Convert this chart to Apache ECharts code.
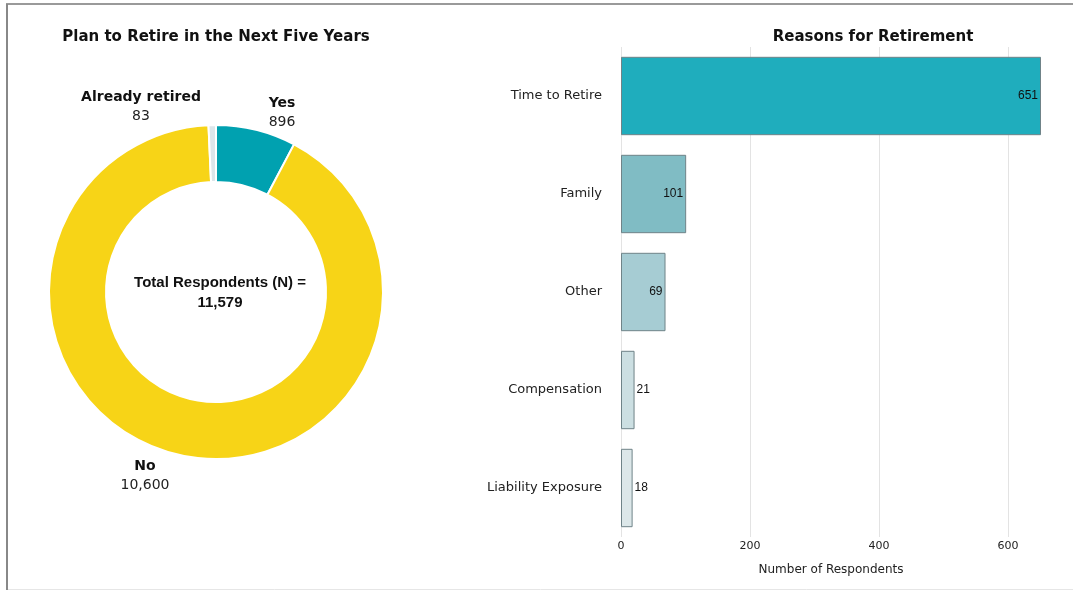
<!DOCTYPE html>
<html><head><meta charset="utf-8">
<script src="https://cdn.jsdelivr.net/npm/echarts@6/dist/echarts.min.js"></script>
<style>html,body{margin:0;padding:0;background:#fff}#c{width:1073px;height:590px}</style>
</head><body><div id="c"></div>
<script>
const pieNames = ['Yes', 'No', 'Already retired'];
const pieValues = [896, 10600, 83];
const reasonCategories = ['Time to Retire', 'Family', 'Other', 'Compensation', 'Liability Exposure'];
const reasonValues = [651, 101, 69, 21, 18];
const xTicks = [0, 200, 400, 600];

const pieColors = ['#00A1B0', '#F7D417', '#DCE6EA'];
const barColors = ['#1FADBD', '#80BCC4', '#A6CCD3', '#CCDFE2', '#DCE7E9'];
const labelSpots = {'Yes': [282, 113], 'Already retired': [141, 107], 'No': [145, 476]};
const total = pieValues.reduce((a, b) => a + b, 0);
const fmt = v => v.toLocaleString('en-US');

const chart = echarts.init(document.getElementById('c'));
chart.setOption({
  animation: false,
  title: [
    {text: 'Plan to Retire in the Next Five Years', left: 211, top: 25, textAlign: 'center',
     textStyle: {fontFamily: 'DejaVu Sans', fontSize: 15, fontWeight: 'bold', color: '#111'}},
    {text: 'Reasons for Retirement', left: 868, top: 25, textAlign: 'center',
     textStyle: {fontFamily: 'DejaVu Sans', fontSize: 15, fontWeight: 'bold', color: '#111'}},
    {text: 'Total Respondents (N) =\n' + fmt(total), left: 215, top: 268, textAlign: 'center',
     textStyle: {fontFamily: 'Arial, "Liberation Sans"', fontSize: 15, fontWeight: 'bold', color: '#111', lineHeight: 20}}
  ],
  graphic: [
    {type: 'line', shape: {x1: 6, y1: 4, x2: 1073, y2: 4}, style: {stroke: '#9a9a9a', lineWidth: 2}},
    {type: 'line', shape: {x1: 7, y1: 4, x2: 7, y2: 590}, style: {stroke: '#888', lineWidth: 2}},
    {type: 'line', shape: {x1: 8, y1: 589.5, x2: 1073, y2: 589.5}, style: {stroke: '#e6e6e6', lineWidth: 1}}
  ],
  grid: {left: 621, right: 32, top: 47, bottom: 53},
  xAxis: {
    type: 'value', min: 0, max: 'dataMax',
    name: 'Number of Respondents', nameLocation: 'middle', nameGap: 27,
    nameTextStyle: {fontFamily: 'DejaVu Sans', fontSize: 12, color: '#222'},
    axisLine: {show: false},
    axisTick: {show: false, customValues: xTicks},
    axisLabel: {fontFamily: 'DejaVu Sans', fontSize: 11, color: '#222', margin: 4, customValues: xTicks},
    splitLine: {show: true, lineStyle: {color: '#e3e3e3'}}
  },
  yAxis: {
    type: 'category', inverse: true, data: reasonCategories,
    axisLine: {show: false}, axisTick: {show: false},
    axisLabel: {fontFamily: 'DejaVu Sans', fontSize: 13, color: '#222', margin: 19}
  },
  series: [
    {
      type: 'pie', center: [216, 292], radius: [110, 167], startAngle: 90, clockwise: true,
      data: pieNames.map((n, i) => ({name: n, value: pieValues[i], itemStyle: {color: pieColors[i]}})),
      itemStyle: {borderColor: '#fff', borderWidth: 2},
      label: {
        show: true, position: 'outside',
        formatter: p => '{n|' + p.name + '}\n{v|' + fmt(p.value) + '}',
        rich: {
          n: {fontFamily: 'DejaVu Sans', fontSize: 14, fontWeight: 'bold', color: '#111', lineHeight: 19, align: 'center'},
          v: {fontFamily: 'DejaVu Sans', fontSize: 14, color: '#222', lineHeight: 19, align: 'center'}
        }
      },
      labelLine: {show: false},
      labelLayout: p => {
        const s = labelSpots[pieNames[p.dataIndex]];
        return {x: s[0], y: s[1], align: 'center', verticalAlign: 'middle'};
      },
      emphasis: {disabled: true}
    },
    {
      type: 'bar', barCategoryGap: '20%',
      data: reasonValues.map((v, i) => ({
        value: v,
        itemStyle: {color: barColors[i]},
        label: {position: v > 50 ? 'insideRight' : 'right', distance: v > 50 ? 3 : 2}
      })),
      itemStyle: {borderColor: '#6f8388', borderWidth: 1},
      label: {show: true, fontFamily: 'Arial, "Liberation Sans"', fontSize: 12, color: '#111'},
      emphasis: {disabled: true}
    }
  ]
});
</script></body></html>
